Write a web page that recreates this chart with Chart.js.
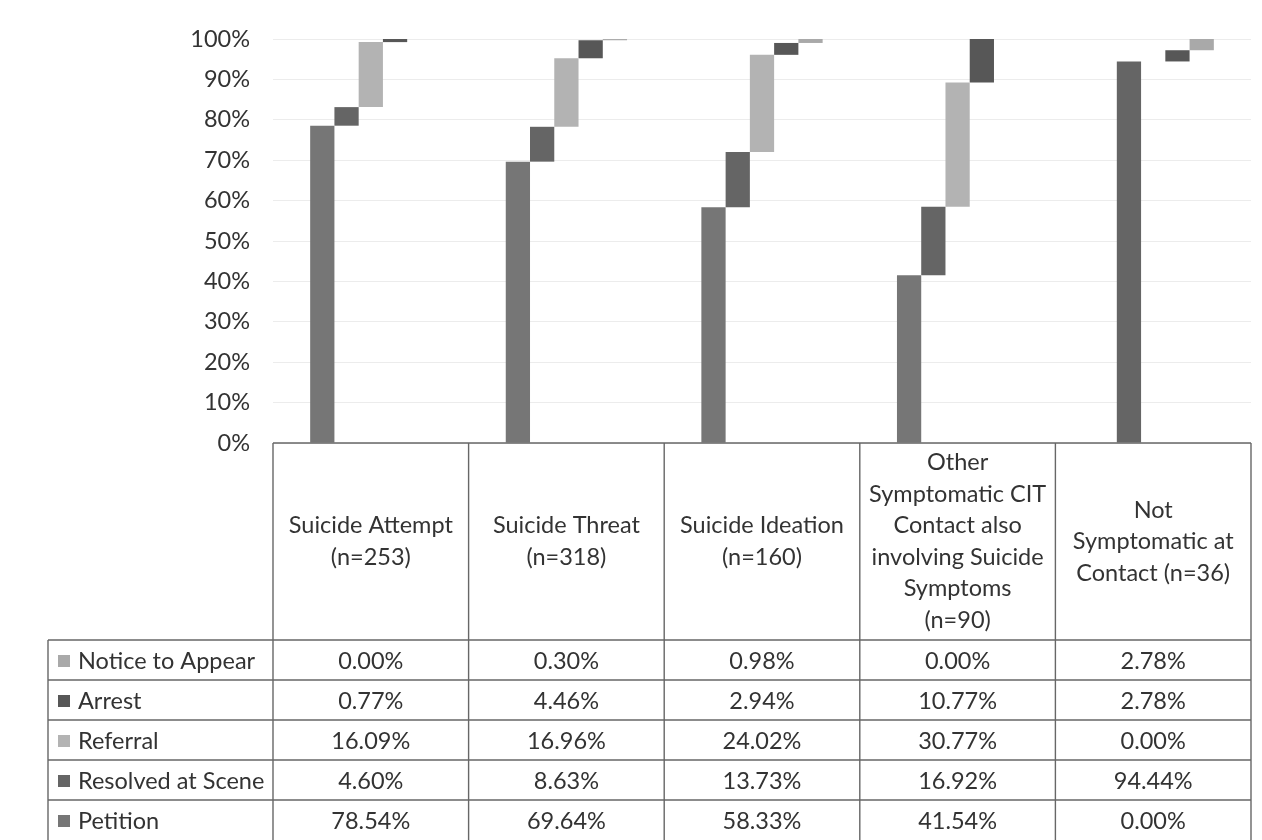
<!DOCTYPE html>
<html>
<head>
<meta charset="utf-8">
<title>CIT contact outcomes by suicide symptom type</title>
<script src="https://cdn.jsdelivr.net/npm/chart.js@4/dist/chart.umd.min.js"></script>
<style>
  html, body { margin: 0; padding: 0; background: #ffffff; }
  #wrap { width: 1262px; height: 840px; position: relative; }
</style>
</head>
<body>
<div id="wrap"><canvas id="chart" width="1262" height="840"></canvas></div>
<script>
// Contact categories (header cells of the data table, one line per entry)
const categories = [
  ['Suicide Attempt', '(n=253)'],
  ['Suicide Threat', '(n=318)'],
  ['Suicide Ideation', '(n=160)'],
  ['Other', 'Symptomatic CIT', 'Contact also', 'involving Suicide', 'Symptoms', '(n=90)'],
  ['Not', 'Symptomatic at', 'Contact (n=36)']
];

// Outcome shares, percent of contacts in each category
const petition = [78.54, 69.64, 58.33, 41.54, 0.00];
const resolvedAtScene = [4.60, 8.63, 13.73, 16.92, 94.44];
const referral = [16.09, 16.96, 24.02, 30.77, 0.00];
const arrest = [0.77, 4.46, 2.94, 10.77, 2.78];
const noticeToAppear = [0.00, 0.30, 0.98, 0.00, 2.78];

// Y axis tick labels
const yTickValues = [0, 10, 20, 30, 40, 50, 60, 70, 80, 90, 100];
const yTickLabels = ['0%', '10%', '20%', '30%', '40%', '50%', '60%', '70%', '80%', '90%', '100%'];

// Series in cascade order (left to right within each category)
const series = [
  { name: 'Petition', values: petition, color: '#767676' },
  { name: 'Resolved at Scene', values: resolvedAtScene, color: '#656565' },
  { name: 'Referral', values: referral, color: '#b3b3b3' },
  { name: 'Arrest', values: arrest, color: '#575757' },
  { name: 'Notice to Appear', values: noticeToAppear, color: '#a9a9a9' }
];
// Table rows are listed top to bottom in reverse series order
const tableRows = series.slice().reverse();

const FONT = 'Lato, "Open Sans", "DejaVu Sans", sans-serif';
const FONT_SIZE = 23.5;
const TEXT = '#333333';

// Each bar floats from the running total of the outcomes to its left
const running = categories.map(() => 0);
const datasets = series.map(s => {
  const data = s.values.map((v, i) => {
    const start = running[i];
    running[i] = start + v;
    return [start, start + v];
  });
  return {
    label: s.name,
    data,
    backgroundColor: s.color,
    borderWidth: 0,
    categoryPercentage: 0.62,
    barPercentage: 1.0
  };
});

// Draws the data table (category headers, legend keys, values) under the plot
const dataTable = {
  id: 'dataTable',
  afterDraw(chart) {
    const { ctx, chartArea, scales } = chart;
    const x = scales.x, y = scales.y;
    const n = categories.length;
    const colW = chartArea.width / n;
    const top = y.getPixelForValue(0);
    const headerH = 197;
    const rowH = 40;
    const legendLeft = 48;
    const right = chartArea.right;
    const colEdge = i => x.getPixelForValue(i) - colW / 2;
    const bodyTop = top + headerH;
    const bottom = bodyTop + rowH * tableRows.length;

    ctx.save();
    ctx.strokeStyle = '#676767';
    ctx.lineWidth = 1.4;
    ctx.beginPath();
    // header row border
    ctx.moveTo(colEdge(0), top); ctx.lineTo(right, top);
    for (let i = 0; i <= n; i++) {
      const px = i === n ? right : colEdge(i);
      ctx.moveTo(px, top); ctx.lineTo(px, bottom);
    }
    // body rows with legend column
    ctx.moveTo(legendLeft, bodyTop); ctx.lineTo(legendLeft, bottom);
    for (let r = 0; r < tableRows.length; r++) {
      const ry = bodyTop + r * rowH;
      ctx.moveTo(legendLeft, ry); ctx.lineTo(right, ry);
    }
    ctx.stroke();

    ctx.fillStyle = TEXT;
    ctx.font = FONT_SIZE + 'px ' + FONT;
    ctx.textAlign = 'center';
    ctx.textBaseline = 'middle';

    // category header cells
    const lineH = 31.5;
    categories.forEach((lines, i) => {
      const cx = x.getPixelForValue(i);
      const cy = top + headerH / 2;
      const y0 = cy - (lines.length - 1) * lineH / 2;
      lines.forEach((t, k) => ctx.fillText(t, cx, y0 + k * lineH));
    });

    // legend keys and values
    tableRows.forEach((row, r) => {
      const cy = bodyTop + r * rowH + rowH / 2 + 1;
      ctx.fillStyle = row.color;
      ctx.fillRect(58, cy - 6, 12, 12);
      ctx.fillStyle = TEXT;
      ctx.textAlign = 'left';
      ctx.fillText(row.name, 78, cy);
      ctx.textAlign = 'center';
      row.values.forEach((v, i) => {
        ctx.fillText(v.toFixed(2) + '%', x.getPixelForValue(i), cy);
      });
    });
    ctx.restore();
  }
};

new Chart(document.getElementById('chart'), {
  type: 'bar',
  data: {
    labels: categories.map(c => c.join(' ')),
    datasets
  },
  options: {
    responsive: false,
    animation: false,
    devicePixelRatio: 1,
    layout: { padding: { left: 0, top: 39, right: 11, bottom: 397 } },
    plugins: {
      legend: { display: false },
      tooltip: { enabled: false }
    },
    scales: {
      x: { display: false, grid: { display: false } },
      y: {
        min: 0,
        max: 100,
        afterFit(scale) { scale.width = 273; },
        afterBuildTicks(scale) { scale.ticks = yTickValues.map(v => ({ value: v })); },
        ticks: {
          padding: 23,
          color: TEXT,
          font: { family: FONT, size: FONT_SIZE },
          callback: (value) => yTickLabels[yTickValues.indexOf(value)]
        },
        grid: { color: '#ececec', lineWidth: 1, drawTicks: false },
        border: { display: false }
      }
    }
  },
  plugins: [dataTable]
});
</script>
</body>
</html>
